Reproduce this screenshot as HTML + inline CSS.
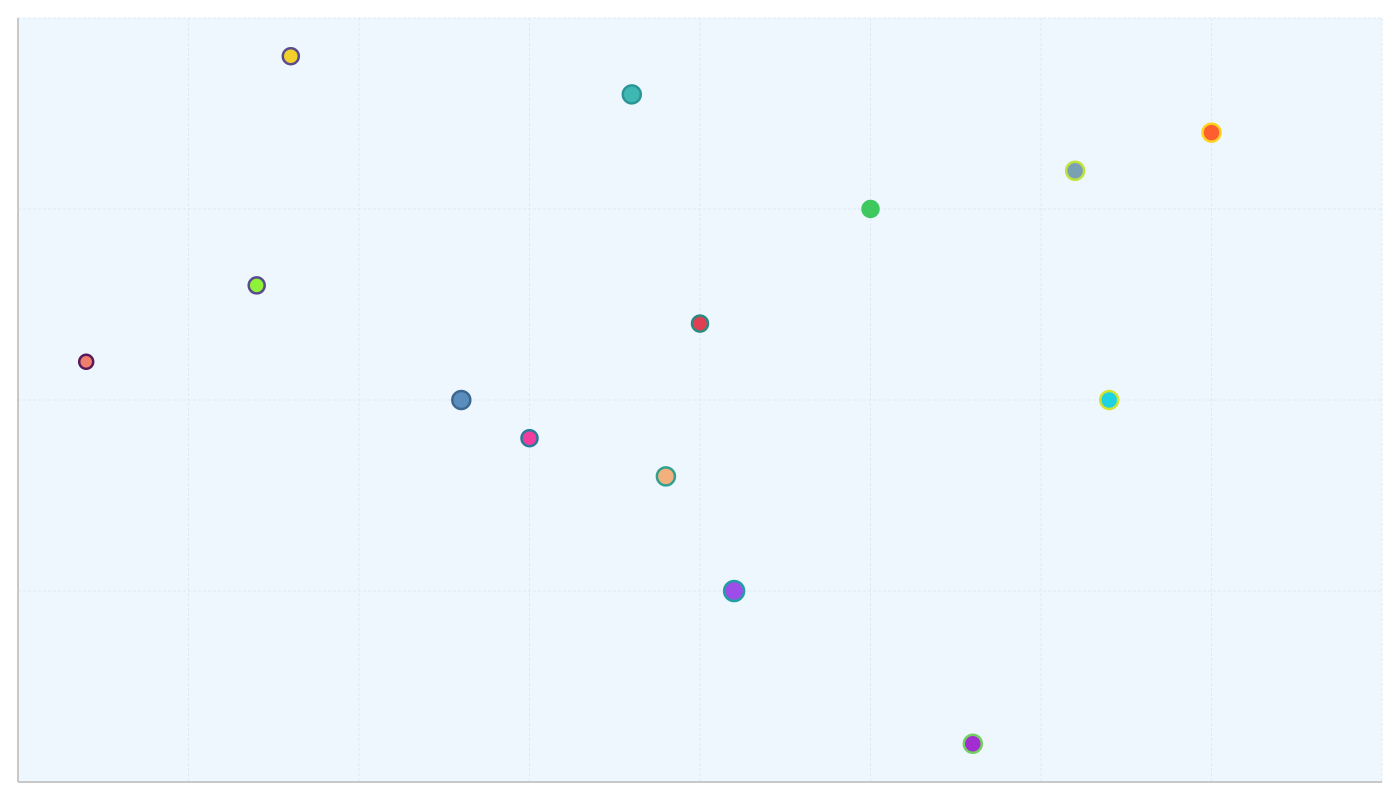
<!DOCTYPE html>
<html><head><meta charset="utf-8"><style>
html,body{margin:0;padding:0;background:#fff;width:1400px;height:800px;overflow:hidden;font-family:"Liberation Sans",sans-serif}
</style></head><body>
<svg id="chart" width="1400" height="800" xmlns="http://www.w3.org/2000/svg">
<rect x="18" y="18" width="1364" height="764" fill="#eef6fe"/>
<g id="grid"></g>
<g id="points"></g>
<line x1="18" y1="18" x2="18" y2="782" stroke="#c8c8c8" stroke-width="2"/>
<line x1="18" y1="782" x2="1382" y2="782" stroke="#c8c8c8" stroke-width="2"/>
</svg>
<script>
const xValues=[0.4,1.6,1.4,2.6,3.0,3.6,3.8,4.0,4.2,5.0,5.6,6.2,6.4,7.0];
const yValues=[2.2,3.8,2.6,2.0,1.8,3.6,1.6,2.4,1.0,3.0,0.2,3.2,2.0,3.4];
const sizes=[7,8,8,9,8,9,9,8,10,8,9,9,9,9];
const fills=["#f07e6c","#f2d02c","#8ef238","#5a8dbd","#f03c9c","#3fb8b2","#f2b07c","#e23e52","#9e4ee8","#3ec85e","#a22ed2","#7aa0b4","#1ed2e2","#ff5e2e"];
const strokes=["#5a1a5a","#5a4c8c","#5a4c8c","#3a6890","#2a7a9c","#2a9696","#32a08e","#2a8a80","#20a0a4","#40c860","#72d060","#c0e23c","#d2e432","#ffd420"];
const xTicks=[0,1,2,3,4,5,6,7,8];
const yTicks=[0,1,2,3,4];
const X0=18,X1=1382,Y0=782,Y1=18;
const sx=v=>X0+(X1-X0)*v/8, sy=v=>Y0-(Y0-Y1)*v/4;
const ns="http://www.w3.org/2000/svg";
const grid=document.getElementById('grid'), pts=document.getElementById('points');
xTicks.forEach(t=>{const l=document.createElementNS(ns,'line');


l.setAttribute('x1',sx(t));l.setAttribute('x2',sx(t));l.setAttribute('y1',Y1);l.setAttribute('y2',Y0);
l.setAttribute('stroke','#dfe9f3');l.setAttribute('stroke-dasharray','3,2');l.setAttribute('stroke-width','1');grid.appendChild(l);});
yTicks.forEach(t=>{const l=document.createElementNS(ns,'line');


l.setAttribute('x1',X0);l.setAttribute('x2',X1);l.setAttribute('y1',sy(t));l.setAttribute('y2',sy(t));
l.setAttribute('stroke','#dfe9f3');l.setAttribute('stroke-dasharray','3,2');l.setAttribute('stroke-width','1');grid.appendChild(l);});
xValues.forEach((v,i)=>{const c=document.createElementNS(ns,'circle');


c.setAttribute('cx',sx(v));c.setAttribute('cy',sy(yValues[i]));c.setAttribute('r',sizes[i]);
c.setAttribute('fill',fills[i]);c.setAttribute('stroke',strokes[i]);c.setAttribute('stroke-width','2.5');pts.appendChild(c);});
</script>
</body></html>
